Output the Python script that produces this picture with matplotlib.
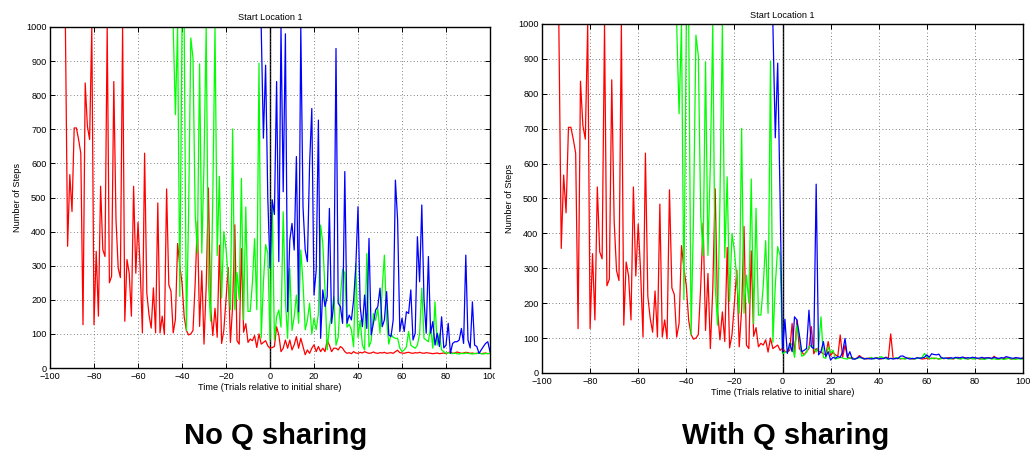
import numpy as np
import matplotlib
matplotlib.use("Agg")
import matplotlib.pyplot as plt
from matplotlib.patches import Rectangle

plt.rcParams['font.family'] = ['Liberation Sans', 'DejaVu Sans']

# Steps per trial before the first share (same runs in both panels)
red_pre = [1000, 1000, 1000, 1000, 1000, 1000, 1000, 1000, 357, 567,
           459, 704, 704, 670, 630, 127, 836, 709, 670, 1000,
           127, 342, 152, 533, 347, 327, 1000, 250, 269, 840,
           435, 293, 265, 1000, 137, 318, 278, 152, 533, 278,
           427, 290, 103, 630, 220, 156, 117, 235, 103, 484,
           103, 152, 98, 525, 244, 225, 103, 142, 365, 300,
           250, 150, 110, 97, 100, 110, 250, 430, 122, 285,
           70, 240, 528, 180, 95, 175, 90, 360, 72, 110,
           200, 295, 75, 180, 420, 80, 70, 350, 105, 130,
           75, 85, 80, 95, 60, 100, 70, 75, 80, 65]
green_pre = [1000, 1000, 1000, 1000, 1000, 743, 1000, 210, 1000, 1000,
             110, 450, 968, 909, 450, 337, 892, 337, 600, 1000,
             250, 137, 500, 1000, 330, 562, 205, 400, 350, 269,
             171, 701, 171, 280, 200, 556, 142, 472, 166, 166,
             250, 379, 171, 894, 88, 250, 362, 337]
blue_pre = [1000, 1000, 1000, 1000, 1000, 674, 888, 498]

# Trials 0..100 without Q sharing
red_solo = [58, 60, 63, 121, 97, 48, 58, 82, 58, 82,
            53, 68, 92, 58, 87, 63, 39, 53, 43, 58,
            68, 48, 63, 48, 58, 48, 82, 67, 48, 58,
            58, 53, 63, 58, 48, 43, 45, 42, 48, 44,
            43, 46, 44, 48, 45, 43, 44, 47, 44, 43,
            45, 44, 46, 43, 44, 45, 43, 48, 52, 45,
            44, 43, 45, 46, 44, 43, 45, 44, 46, 44,
            43, 45, 44, 43, 42, 43, 44, 42, 43, 44,
            42, 45, 48, 43, 44, 47, 45, 43, 44, 46,
            45, 43, 44, 42, 43, 45, 42, 43, 44, 42, 43]
green_solo = [82, 493, 82, 150, 170, 120, 458, 200, 87, 292,
              110, 150, 214, 131, 346, 250, 112, 140, 190, 100,
              146, 112, 160, 419, 366, 230, 53, 120, 160, 209,
              67, 90, 209, 290, 278, 120, 128, 112, 62, 307,
              90, 140, 67, 53, 336, 62, 80, 160, 140, 175,
              102, 234, 331, 140, 70, 100, 90, 87, 87, 59,
              48, 53, 62, 107, 67, 62, 58, 67, 100, 234,
              87, 82, 77, 122, 58, 194, 67, 100, 53, 48,
              43, 45, 43, 42, 44, 42, 41, 43, 42, 44,
              43, 42, 41, 43, 42, 44, 42, 41, 43, 42, 43]
blue_solo = [293, 493, 450, 840, 312, 1000, 517, 980, 165, 375,
             424, 346, 620, 165, 1000, 473, 346, 312, 600, 761,
             214, 287, 727, 87, 229, 180, 209, 468, 131, 190,
             937, 190, 180, 131, 576, 131, 155, 141, 199, 297,
             473, 180, 121, 214, 116, 380, 97, 131, 170, 180,
             234, 121, 141, 224, 97, 92, 141, 551, 434, 107,
             146, 107, 165, 160, 229, 82, 102, 385, 253, 478,
             200, 102, 327, 102, 136, 67, 102, 63, 150, 59,
             67, 131, 43, 72, 77, 77, 82, 116, 72, 331,
             82, 59, 194, 67, 63, 43, 53, 63, 72, 77, 48]

# Trials 0..100 with Q sharing
red_shared = [71, 62, 60, 65, 142, 52, 152, 70, 60, 52,
              62, 70, 133, 55, 70, 62, 60, 55, 52, 90,
              50, 60, 52, 48, 109, 45, 80, 45, 42, 44,
              40, 43, 50, 44, 42, 40, 43, 42, 41, 44,
              42, 40, 43, 45, 42, 112, 42, 41, 44, 40,
              42, 41, 43, 42, 40, 41, 43, 42, 40, 41,
              42, 40, 43, 41, 42, 40, 43, 41, 42, 44,
              42, 40, 43, 45, 41, 42, 44, 40, 42, 41,
              43, 42, 40, 41, 43, 42, 44, 41, 48, 42,
              40, 42, 41, 43, 42, 40, 41, 43, 42, 41, 42]
green_shared = [55, 60, 60, 75, 85, 45, 138, 104, 48, 52,
                60, 75, 80, 70, 60, 75, 161, 45, 42, 75,
                58, 65, 40, 42, 45, 43, 41, 40, 44, 42,
                40, 42, 44, 43, 40, 42, 41, 45, 40, 43,
                42, 47, 43, 41, 40, 42, 41, 43, 44, 42,
                41, 40, 42, 43, 41, 40, 42, 43, 44, 56,
                45, 42, 41, 43, 42, 40, 41, 43, 42, 41,
                40, 42, 43, 41, 40, 42, 41, 40, 42, 41,
                40, 42, 41, 40, 39, 41, 42, 40, 41, 39,
                40, 41, 39, 40, 42, 41, 40, 39, 41, 40, 40]
blue_shared = [60, 154, 56, 85, 61, 161, 152, 110, 61, 65,
               70, 180, 75, 70, 541, 52, 61, 90, 47, 61,
               37, 45, 42, 47, 45, 60, 99, 45, 61, 40,
               40, 42, 47, 43, 40, 42, 41, 40, 42, 43,
               40, 42, 41, 45, 40, 42, 40, 42, 41, 48,
               49, 45, 42, 40, 42, 41, 44, 42, 43, 45,
               52, 45, 55, 53, 52, 54, 44, 42, 43, 41,
               44, 42, 45, 43, 44, 46, 42, 44, 43, 45,
               44, 42, 43, 45, 42, 44, 43, 42, 45, 43,
               42, 44, 43, 47, 45, 43, 42, 44, 43, 42, 43]

x_ticks = list(range(-100, 101, 20))
y_ticks = list(range(0, 1001, 100))
colors = ['#ff0000', '#00ff00', '#0000ff']
W, H = 1030, 451
FS = 6.6


def series(pre, post):
    x = np.concatenate([np.arange(-len(pre), 0), np.arange(len(post))])
    y = np.concatenate([pre, post])
    return x, y


def panel(rect, posts, title_pad):
    l, t, r, b = rect
    ax = fig.add_axes([l / W, 1 - b / H, (r - l) / W, (b - t) / H])
    ax.axvline(0, color='black', lw=1.0, zorder=1)
    for pre, post, c in zip([red_pre, green_pre, blue_pre], posts, colors):
        x, y = series(pre, post)
        ax.plot(x, y, color=c, lw=0.9, zorder=2)
    ax.set_xlim(-100, 100)
    ax.set_ylim(0, 1000)
    ax.set_xticks(x_ticks)
    ax.set_yticks(y_ticks)
    ax.set_xticklabels([str(v).replace('-', '\u2212') for v in x_ticks])
    ax.grid(True, linestyle=(0, (1, 3)), color='0.35', linewidth=0.6)
    ax.tick_params(direction='in', top=True, right=True, length=3.5,
                   width=0.7, labelsize=FS)
    ax.tick_params(axis='x', pad=3)
    ax.tick_params(axis='y', pad=2.5)
    for s in ax.spines.values():
        s.set_linewidth(1.0)
    ax.set_title('Start Location 1', fontsize=FS, pad=title_pad)
    ax.set_xlabel('Time (Trials relative to initial share)', fontsize=FS, labelpad=1)
    ax.set_ylabel('Number of Steps', fontsize=FS, labelpad=3)
    return ax


fig = plt.figure(figsize=(W / 100, H / 100), dpi=100)

panel((50, 27, 490, 368), [red_solo, green_solo, blue_solo], 5)
panel((542, 24, 1023, 373), [red_shared, green_shared, blue_shared], 4)

# left panel's image edge trims its last tick label
fig.add_artist(Rectangle((495 / W, 1 - 386 / H), 28 / W, 15 / H,
                         transform=fig.transFigure, color='white', zorder=10))

fig.text(276 / W, 1 - 436 / H, 'No Q sharing', ha='center', va='center',
         fontsize=21, fontweight='bold')
fig.text(786 / W, 1 - 436 / H, 'With Q sharing', ha='center', va='center',
         fontsize=21, fontweight='bold')

fig.savefig('out.png', dpi=100)
